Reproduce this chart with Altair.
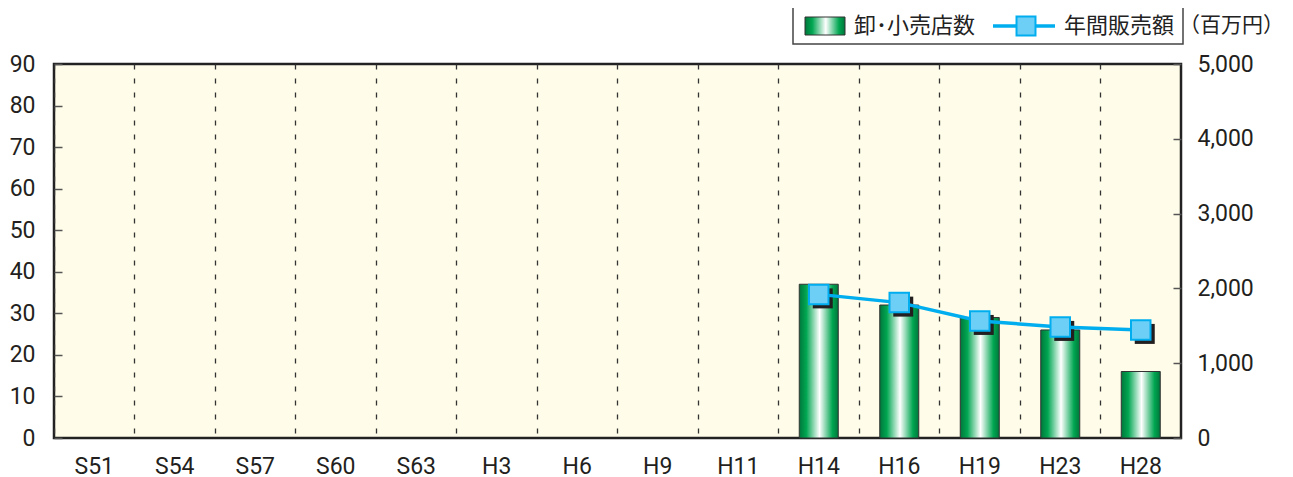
import altair as alt
import pandas as pd

categories = ["S51", "S54", "S57", "S60", "S63", "H3", "H6", "H9", "H11",
              "H14", "H16", "H19", "H23", "H28"]
stores = [None, None, None, None, None, None, None, None, None, 37, 32, 29, 26, 16]
sales = [None, None, None, None, None, None, None, None, None, 1920, 1810, 1565, 1485, 1445]
left_ticks = [0, 10, 20, 30, 40, 50, 60, 70, 80, 90]
right_ticks = [0, 1000, 2000, 3000, 4000, 5000]

df = pd.DataFrame({"cat": categories, "stores": stores, "sales": sales})
bars_df = df.dropna(subset=["stores"])
line_df = df.dropna(subset=["sales"])

LABEL_FONT = "Roboto"
LABEL_SIZE = 23
LABEL_COLOR = "#231F20"
CJK = "Noto Sans CJK JP"

green_grad = {
    "gradient": "linear", "x1": 0, "x2": 1, "y1": 0, "y2": 0,
    "stops": [
        {"offset": 0, "color": "#00773B"},
        {"offset": 0.18, "color": "#00A651"},
        {"offset": 0.52, "color": "#FFFFFF"},
        {"offset": 0.85, "color": "#00A651"},
        {"offset": 1, "color": "#00773B"},
    ],
}

x_enc = alt.X("cat:N", sort=categories,
              scale=alt.Scale(domain=categories, paddingInner=0, paddingOuter=0),
              axis=alt.Axis(title=None, labelAngle=0, ticks=False, domain=False,
                            labelFont=LABEL_FONT, labelFontSize=LABEL_SIZE,
                            labelColor=LABEL_COLOR,
                            labelPadding=17, grid=True, bandPosition=0,
                            gridDash=[5, 9], gridColor="#333", gridWidth=1.3))

bars = alt.Chart(bars_df).mark_bar(
    fill=green_grad, stroke="#333", strokeWidth=1, width=39
).encode(
    x=x_enc,
    y=alt.Y("stores:Q", scale=alt.Scale(domain=[0, 90], nice=False),
            axis=alt.Axis(title=None, values=left_ticks, orient="left", offset=-8,
                          tickSize=8, tickColor="#555", tickWidth=1.5, domain=False,
                          grid=False, labelPadding=19, labelFont=LABEL_FONT,
                          labelFontSize=LABEL_SIZE, labelColor=LABEL_COLOR)),
)

right_axis = alt.Axis(title=None, values=right_ticks, orient="right", offset=-8,
                      tickSize=8, tickColor="#555", tickWidth=1.5, domain=False,
                      grid=False, labelPadding=16, format=",d",
                      labelFont=LABEL_FONT, labelFontSize=LABEL_SIZE,
                      labelColor=LABEL_COLOR)
y_right = alt.Y("sales:Q", scale=alt.Scale(domain=[0, 5000], nice=False), axis=right_axis)

x_plain = alt.X("cat:N", sort=categories)

shadow = alt.Chart(line_df).mark_square(
    fill="#231F20", size=400, opacity=1, xOffset=4, yOffset=4, strokeWidth=0
).encode(x=x_plain, y=y_right)
line = alt.Chart(line_df).mark_line(color="#00AEEF", strokeWidth=3.5).encode(
    x=x_plain, y=y_right)
squares = alt.Chart(line_df).mark_square(
    fill="#6DCFF6", stroke="#00AEEF", strokeWidth=2, size=380, opacity=1
).encode(x=x_plain, y=y_right)

line_group = alt.layer(shadow, line, squares)

# legend (decoration, positioned in pixels relative to plot origin)
one = pd.DataFrame({"a": [0]})
leg_box = alt.Chart(one).mark_rect(fill="white", stroke="#444", strokeWidth=1.5).encode(
    x=alt.value(739), x2=alt.value(1129), y=alt.value(-59), y2=alt.value(-20))
leg_swatch = alt.Chart(one).mark_rect(fill=green_grad, stroke="#333", strokeWidth=1).encode(
    x=alt.value(751), x2=alt.value(791), y=alt.value(-47), y2=alt.value(-29))
leg_t1 = alt.Chart(one).mark_text(text="卸･小売店数", font=CJK, fontSize=22, align="left",
                                  baseline="middle", color="#222").encode(
    x=alt.value(800), y=alt.value(-38))
leg_line = alt.Chart(one).mark_rule(color="#00AEEF", strokeWidth=3.5).encode(
    x=alt.value(939), x2=alt.value(1001), y=alt.value(-38))
leg_sq = alt.Chart(one).mark_square(fill="#6DCFF6", stroke="#00AEEF", strokeWidth=2,
                                    size=360, opacity=1).encode(
    x=alt.value(972), y=alt.value(-38))
leg_t2 = alt.Chart(one).mark_text(text="年間販売額", font=CJK, fontSize=22, align="left",
                                  baseline="middle", color="#222").encode(
    x=alt.value(1010), y=alt.value(-38))
leg_t3 = alt.Chart(one).mark_text(text="（百万円）", font=CJK, fontSize=21, align="left",
                                  baseline="middle", color="#222").encode(
    x=alt.value(1125), y=alt.value(-38))

chart = alt.layer(
    bars, line_group, leg_box, leg_swatch, leg_t1, leg_line, leg_sq, leg_t2, leg_t3
).resolve_scale(y="independent").properties(
    width=1127, height=374,
    autosize=alt.AutoSizeParams(type="none"),
    padding={"left": 46, "top": 56, "right": 104, "bottom": 40},
    background="white",
).configure_view(
    fill="#FFFDE9", stroke="#222", strokeWidth=2.5
)

chart.save("out.html", embed_options={"renderer": "svg", "actions": False})
